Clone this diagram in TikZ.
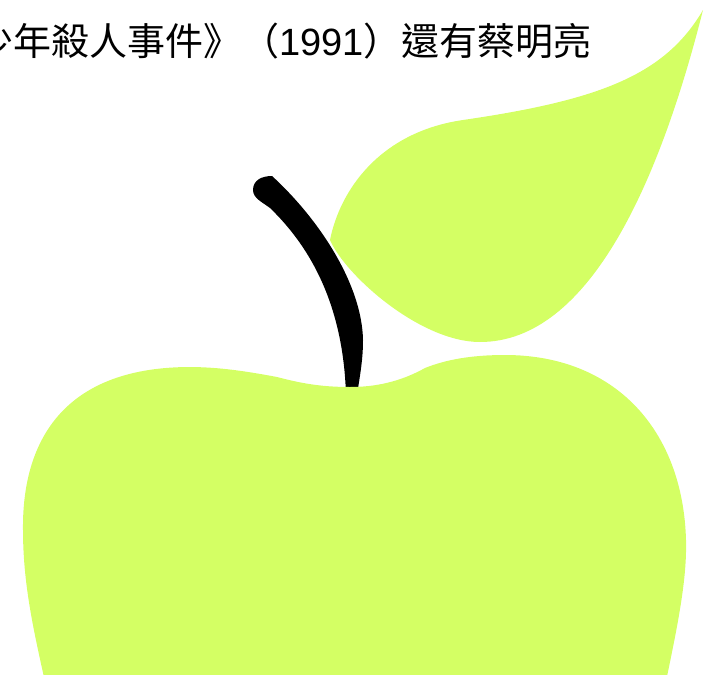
\documentclass[tikz,border=0pt]{standalone}
\usepackage{fontspec}
\newfontfamily\cjk{Noto Sans CJK TC}
\newfontfamily\latin{Liberation Sans}
\definecolor{applegreen}{HTML}{D4FF64}
\tikzset{
  fruit/.style={fill=applegreen, draw=none},
  stalk/.style={fill=black, draw=none},
  caption/.style={font=\cjk\fontsize{38}{42}\selectfont, inner sep=0pt, anchor=base east}
}
\begin{document}
\begin{tikzpicture}[x=1pt,y=-1pt]
\useasboundingbox (0,0) rectangle (726,675);
\clip (0,0) rectangle (726,675);
% leaf
\path[fruit] (703,10) .. controls (665,75) and (600,100) .. (463,120)
  .. controls (380,132) and (340,190) .. (330,240)
  .. controls (345,275) and (420,342) .. (480,342)
  .. controls (590,342) and (660,180) .. (703,10) -- cycle;
% stem (tapered)
\path[stalk] (272,176) .. controls (320,220) and (362,285) .. (363,340)
  .. controls (363,360) and (360,375) .. (357,395)
  -- (346,395)
  .. controls (344,330) and (326,262) .. (270,208)
  .. controls (262,202) and (253,198) .. (253,190)
  .. controls (253,180) and (262,176) .. (272,176) -- cycle;
% apple body
\path[fruit] (277,377) .. controls (240,370) and (215,367) .. (188,367)
  .. controls (60,368) and (22,445) .. (23,530)
  .. controls (23,590) and (36,640) .. (49,700)
  -- (662,700)
  .. controls (678,625) and (687,580) .. (686,540)
  .. controls (683,430) and (615,355) .. (505,355)
  .. controls (470,355) and (445,360) .. (425,368)
  .. controls (400,382) and (375,387) .. (350,387)
  .. controls (320,387) and (300,383) .. (277,377) -- cycle;
% text
\node[caption] (cap) at (592,55) {少年殺人事件》（{\latin 1991}）還有蔡明亮};
\end{tikzpicture}
\end{document}
